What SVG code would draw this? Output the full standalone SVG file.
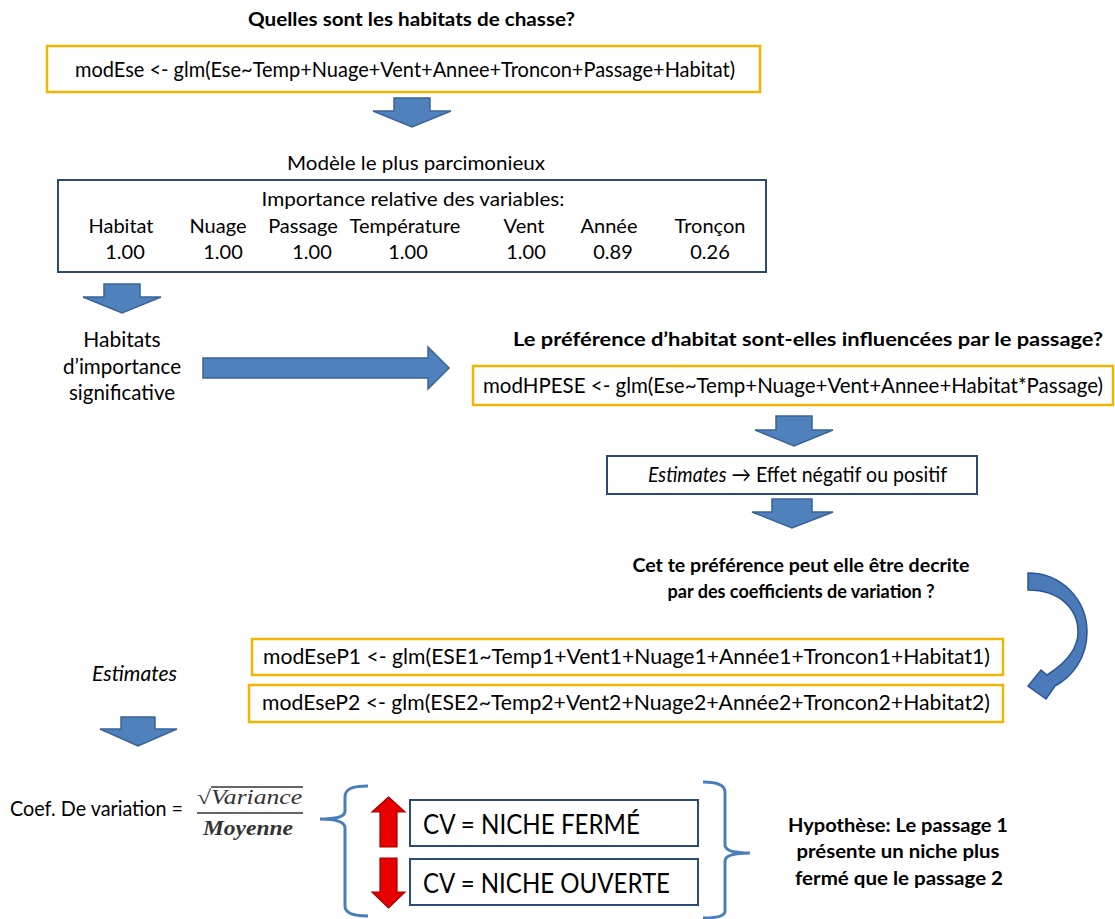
<svg xmlns="http://www.w3.org/2000/svg" width="1115" height="919" viewBox="0 0 1115 919">
<style>
text{font-family:Lato,"Open Sans","Liberation Sans",sans-serif;fill:#000}
.b{font-weight:bold;font-size:19px}
.r{font-size:21px}
.t{font-size:20px}
.ybox{fill:#fff;stroke:#f5b400;stroke-width:2.5}
.bbox{fill:#fff;stroke:#2a4a78;stroke-width:2}
.arr{fill:#4f81bd;stroke:#3a6495;stroke-width:1.5}
.red{fill:#e80000;stroke:#a00000;stroke-width:1.2}
.brace{fill:none;stroke:#4a7ebb;stroke-width:3}
.m{text-anchor:middle}
.math{font-family:"Liberation Serif",serif;font-style:italic;font-size:20px;fill:#333}
</style>
<rect width="1115" height="919" fill="#fff"/>

<g id="q1"><text class="b m" x="411.5" y="26" textLength="327" lengthAdjust="spacingAndGlyphs">Quelles sont les habitats de chasse?</text></g>
<g id="modEse">
<rect class="ybox" x="47" y="46" width="713" height="46"/>
<text class="r" x="75" y="77" textLength="660" lengthAdjust="spacingAndGlyphs">modEse &lt;- glm(Ese~Temp+Nuage+Vent+Annee+Troncon+Passage+Habitat)</text>
</g>
<g id="modele"><text class="t m" x="416" y="170" textLength="258" lengthAdjust="spacingAndGlyphs">Modèle le plus parcimonieux</text></g>
<g id="importance">
<rect class="bbox" x="58" y="180" width="708" height="92"/>
<text class="t m" x="413" y="206" textLength="303" lengthAdjust="spacingAndGlyphs">Importance relative des variables:</text>
<text class="t m" x="121" y="233">Habitat</text>
<text class="t m" x="218" y="233">Nuage</text>
<text class="t m" x="303" y="233">Passage</text>
<text class="t m" x="405" y="233">Température</text>
<text class="t m" x="524" y="233">Vent</text>
<text class="t m" x="609" y="233">Année</text>
<text class="t m" x="710" y="233">Tronçon</text>
<text class="t m" x="125" y="259">1.00</text>
<text class="t m" x="223" y="259">1.00</text>
<text class="t m" x="312" y="259">1.00</text>
<text class="t m" x="408" y="259">1.00</text>
<text class="t m" x="526" y="259">1.00</text>
<text class="t m" x="613" y="259">0.89</text>
<text class="t m" x="710" y="259">0.26</text>
</g>
<g id="habitats">
<text class="r m" x="122" y="347">Habitats</text>
<text class="r m" x="122" y="374" textLength="118" lengthAdjust="spacingAndGlyphs">d’importance</text>
<text class="r m" x="122" y="400" textLength="106" lengthAdjust="spacingAndGlyphs">significative</text>
</g>
<g id="q2"><text class="b m" x="808" y="346" textLength="590" lengthAdjust="spacingAndGlyphs">Le préférence d’habitat sont-elles influencées par le passage?</text></g>
<g id="modHPESE">
<rect class="ybox" x="473" y="366" width="640" height="39"/>
<text class="r" x="483" y="393" textLength="620" lengthAdjust="spacingAndGlyphs">modHPESE &lt;- glm(Ese~Temp+Nuage+Vent+Annee+Habitat*Passage)</text>
</g>
<g id="estimates1">
<rect class="bbox" x="607" y="456" width="370" height="38"/>
<text class="r" x="648" y="482" textLength="299" lengthAdjust="spacingAndGlyphs"><tspan font-style="italic">Estimates</tspan> → Effet négatif ou positif</text>
</g>
<g id="q3">
<text class="b m" x="801" y="572" textLength="337" lengthAdjust="spacingAndGlyphs">Cet te préférence peut elle être decrite</text>
<text class="b m" x="801" y="598" textLength="267" lengthAdjust="spacingAndGlyphs">par des coefficients de variation ?</text>
</g>
<g id="modEseP1">
<rect class="ybox" x="252" y="639" width="751" height="36"/>
<text class="r" x="263" y="664" textLength="727" lengthAdjust="spacingAndGlyphs">modEseP1 &lt;- glm(ESE1~Temp1+Vent1+Nuage1+Année1+Troncon1+Habitat1)</text>
</g>
<g id="modEseP2">
<rect class="ybox" x="249" y="685" width="754" height="37"/>
<text class="r" x="262" y="710" textLength="728" lengthAdjust="spacingAndGlyphs">modEseP2 &lt;- glm(ESE2~Temp2+Vent2+Nuage2+Année2+Troncon2+Habitat2)</text>
</g>
<g id="estimates2"><text class="r" x="92" y="681" font-style="italic" textLength="85" lengthAdjust="spacingAndGlyphs">Estimates</text></g>
<g id="coef">
<text class="r" x="10" y="816" textLength="173" lengthAdjust="spacingAndGlyphs">Coef. De variation =</text>
<text class="math" x="197" y="804" textLength="105" lengthAdjust="spacingAndGlyphs">√Variance</text>
<line x1="211" y1="787" x2="303" y2="787" stroke="#333" stroke-width="1.5"/>
<line x1="197" y1="813" x2="303" y2="813" stroke="#333" stroke-width="1.5"/>
<text class="math" x="203" y="835" font-weight="bold" textLength="90" lengthAdjust="spacingAndGlyphs">Moyenne</text>
</g>
<g id="cvferme">
<rect class="bbox" x="410" y="800" width="288" height="46"/>
<text x="423" y="834" font-size="27" textLength="217" lengthAdjust="spacingAndGlyphs">CV = NICHE FERMÉ</text>
</g>
<g id="cvouverte">
<rect class="bbox" x="410" y="859" width="288" height="46"/>
<text x="423" y="893" font-size="27" textLength="247" lengthAdjust="spacingAndGlyphs">CV = NICHE OUVERTE</text>
</g>
<g id="hypothese">
<text class="b m" x="898" y="832" textLength="220" lengthAdjust="spacingAndGlyphs">Hypothèse: Le passage 1</text>
<text class="b m" x="898" y="858" textLength="203" lengthAdjust="spacingAndGlyphs">présente un niche plus</text>
<text class="b m" x="899" y="885" textLength="208" lengthAdjust="spacingAndGlyphs">fermé que le passage 2</text>
</g>

<g id="connectors">
<path class="arr" d="M394,98 H430 V111 H451 L412,127 L373,111 H394 Z"/>
<path class="arr" d="M104,284 H140 V297 H161 L122,313 L83,297 H104 Z"/>
<path class="arr" d="M203,358 H428 V347 L449,368 L428,389 V378 H203 Z"/>
<path class="arr" d="M776,416 H812 V430 H833 L794,446 L755,430 H776 Z"/>
<path class="arr" d="M772,499 H812 V512 H833 L792,528 L752,512 H772 Z"/>
<path d="M1028,573 C1062,573 1087,600 1087,632 C1087,658 1072,677 1055,686 L1046,699 L1028,686 L1041,670 L1047,675 C1066,663 1078,648 1078,632 C1078,609 1060,590 1028,590 Z" fill="#4a7ab8" stroke="#2f5597" stroke-width="1.5"/>
<path class="arr" d="M121,717 H155 V729 H177 L138,746 L100,729 H121 Z"/>
<path class="brace" d="M368,786 C352,786 345,789 345,797 V811 C345,817 336,819 320,819 C336,819 345,822 345,828 V906 C345,913 352,916 368,916"/>
<path class="brace" d="M703,782 C718,782 725,785 725,792 V845 C725,850 733,853 750,853 C733,853 725,856 725,861 V911 C725,916 718,918 703,918"/>
<path class="red" d="M388.5,797 L405,812 H397 V847 H380 V812 H372 Z"/>
<path class="red" d="M380,858 H397 V892 H405 L388.5,908 L372,892 H380 Z"/>
</g>
</svg>
